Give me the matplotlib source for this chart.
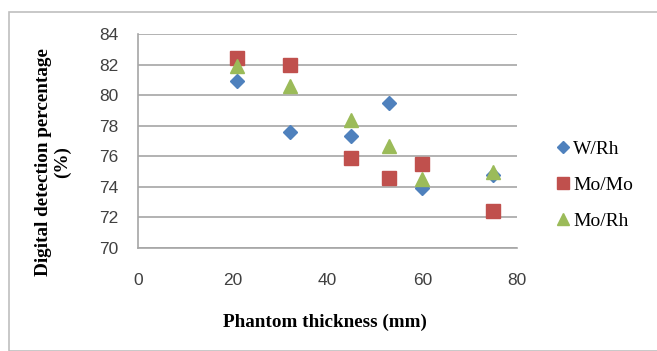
import matplotlib
matplotlib.use("Agg")
import matplotlib.pyplot as plt
from matplotlib.patches import Rectangle

# phantom thickness (mm)
thick_wrh = [21, 32, 45, 53, 60, 75]
thick_momo = [21, 32, 45, 53, 60, 75]
thick_morh = [21, 32, 45, 53, 60, 75]
# digital detection percentage
w_rh = [80.9, 77.6, 77.3, 79.5, 73.9, 74.8]
mo_mo = [82.4, 82.0, 75.9, 74.6, 75.5, 72.4]
mo_rh = [81.9, 80.6, 78.4, 76.7, 74.5, 75.0]

yticks = [70, 72, 74, 76, 78, 80, 82, 84]
xticks = [0, 20, 40, 60, 80]

fig = plt.figure(figsize=(6.57, 3.51), dpi=100)
# outer chart border
fig.patches.append(Rectangle((9/657, 0), 2, 1 - 12/351, transform=fig.transFigure,
                             fill=False, edgecolor='#bfbfbf', linewidth=1.2))

ax = fig.add_axes([138/657, 1 - 248/351, 379/657, 214/351])

ax.plot(thick_wrh, w_rh, linestyle='none', marker='D', ms=7.5, color='#4F81BD', label='W/Rh')
ax.plot(thick_momo, mo_mo, linestyle='none', marker='s', ms=9.5, color='#C0504D', label='Mo/Mo')
ax.plot(thick_morh, mo_rh, linestyle='none', marker='^', ms=10, color='#9BBB59', label='Mo/Rh')

ax.set_xlim(0, 80)
ax.set_ylim(70, 84)
ax.set_xticks(xticks)
ax.set_yticks(yticks)
ax.grid(axis='y', color='#a6a6a6', linewidth=1.2)
ax.set_axisbelow(True)
for s in ['top', 'right']:
    ax.spines[s].set_visible(False)
for s in ['left', 'bottom']:
    ax.spines[s].set_color('#a6a6a6')
    ax.spines[s].set_linewidth(1.2)
ax.tick_params(length=0, labelsize=12.5, labelcolor='#404040')
ax.tick_params(axis='x', pad=18)
ax.tick_params(axis='y', pad=14)
for lab in ax.get_xticklabels() + ax.get_yticklabels():
    lab.set_family('Liberation Sans')

fig.text(325/657, 1 - 322/351, 'Phantom thickness (mm)', ha='center', va='center',
         family='Liberation Serif', weight='bold', fontsize=13.8)
fig.text(53/657, 1 - 162/351, 'Digital detection percentage\n(%)', ha='center', va='center',
         rotation=90, family='Liberation Serif', weight='bold', fontsize=13.8, linespacing=1.2)

leg = fig.legend(loc='center left', bbox_to_anchor=(539/657, 1 - 185/351), frameon=False,
                 numpoints=1, handlelength=0.7, handletextpad=0.15, labelspacing=0.95,
                 prop={'family': 'Liberation Serif', 'size': 14})
for h, ms in zip(leg.legend_handles, [6.3, 8, 8.5]):
    h.set_markersize(ms)

fig.savefig('out.png', dpi=100)
